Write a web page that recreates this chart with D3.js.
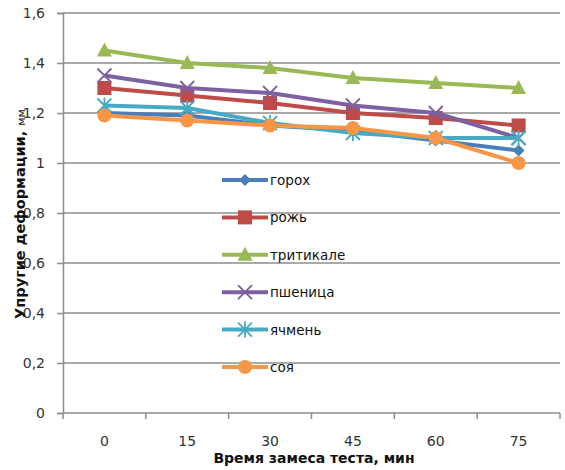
<!DOCTYPE html>
<html>
<head>
<meta charset="utf-8">
<script src="https://cdn.jsdelivr.net/npm/d3@7"></script>
<style>
  html, body { margin: 0; padding: 0; background: #fff; }
  svg { display: block; }
</style>
</head>
<body>
<svg id="chart" width="565" height="470"></svg>
<script>
// Mixing time, minutes
const categories = ["0", "15", "30", "45", "60", "75"];

// Elastic deformation, mm, for each crop
const goroh     = [1.20, 1.19, 1.15, 1.13, 1.09, 1.05];
const rozh      = [1.30, 1.27, 1.24, 1.20, 1.18, 1.15];
const tritikale = [1.45, 1.40, 1.38, 1.34, 1.32, 1.30];
const pshenica  = [1.35, 1.30, 1.28, 1.23, 1.20, 1.10];
const yachmen   = [1.23, 1.22, 1.16, 1.12, 1.10, 1.10];
const soya      = [1.19, 1.17, 1.15, 1.14, 1.10, 1.00];

const yTicks = [0, 0.2, 0.4, 0.6, 0.8, 1, 1.2, 1.4, 1.6];

const series = [
  { name: "горох",     values: goroh,     color: "#4A7EBB", marker: "diamond" },
  { name: "рожь",      values: rozh,      color: "#BE4B48", marker: "square" },
  { name: "тритикале", values: tritikale, color: "#98B954", marker: "triangle" },
  { name: "пшеница",   values: pshenica,  color: "#7D60A0", marker: "cross" },
  { name: "ячмень",    values: yachmen,   color: "#46AAC5", marker: "star" },
  { name: "соя",       values: soya,      color: "#F79646", marker: "circle" }
];

const svg = d3.select("#chart");
const margin = { left: 63, right: 5, top: 13, bottom: 57 };
const W = 565, H = 470;

const x = d3.scaleBand().domain(categories).range([margin.left, W - margin.right]);
const y = d3.scaleLinear().domain([0, 1.6]).range([H - margin.bottom, margin.top]);

const font = "'DejaVu Sans', Verdana, sans-serif";
const gridColor = "#8c8c8c";

// horizontal gridlines
svg.append("g").selectAll("line").data(yTicks.filter(d => d > 0)).join("line")
  .attr("x1", margin.left).attr("x2", W - margin.right)
  .attr("y1", d => y(d)).attr("y2", d => y(d))
  .attr("stroke", gridColor).attr("stroke-width", 1.5);

// y axis
const yAxis = svg.append("g").attr("transform", `translate(${margin.left},0)`)
  .call(d3.axisLeft(y).tickValues(yTicks).tickSize(6).tickPadding(12)
    .tickFormat(d => d3.format("")(d).replace(".", ",")));
yAxis.select(".domain").attr("stroke", gridColor).attr("stroke-width", 1.5);
yAxis.selectAll(".tick line").attr("stroke", gridColor).attr("stroke-width", 1.5);
yAxis.selectAll(".tick text").attr("font-family", font).attr("font-size", 14).attr("fill", "#333");

// x axis with ticks between categories
const xAxisY = y(0);
svg.append("line").attr("x1", margin.left).attr("x2", W - margin.right)
  .attr("y1", xAxisY).attr("y2", xAxisY).attr("stroke", gridColor).attr("stroke-width", 1.5);
const bounds = categories.map(c => x(c)).concat([x(categories[categories.length - 1]) + x.bandwidth()]);
svg.append("g").selectAll("line").data(bounds).join("line")
  .attr("x1", d => d).attr("x2", d => d)
  .attr("y1", xAxisY).attr("y2", xAxisY + 6)
  .attr("stroke", gridColor).attr("stroke-width", 1.5);
svg.append("g").selectAll("text").data(categories).join("text")
  .attr("x", d => x(d) + x.bandwidth() / 2).attr("y", xAxisY + 33)
  .attr("text-anchor", "middle").attr("font-family", font).attr("font-size", 14)
  .attr("fill", "#333").text(d => d);

// axis titles
svg.append("text").attr("x", 314).attr("y", 463).attr("text-anchor", "middle")
  .attr("font-family", font).attr("font-weight", "bold")
  .attr("font-size", 14).attr("fill", "#111").text("Время замеса теста, мин");

const yt = svg.append("text").attr("transform", "translate(25,214) rotate(-90)")
  .attr("text-anchor", "middle").attr("font-family", font)
  .attr("fill", "#111");
yt.append("tspan").attr("font-weight", "bold").attr("font-size", 14.5).text("Упругие деформации, ");
yt.append("tspan").attr("font-size", 11).text("мм");

// marker shapes
function drawMarker(g, type, color) {
  if (type === "diamond") {
    g.append("path").attr("d", "M0,-6L6,0L0,6L-6,0Z").attr("fill", color);
  } else if (type === "square") {
    g.append("rect").attr("x", -7).attr("y", -7).attr("width", 14).attr("height", 14).attr("fill", color);
  } else if (type === "triangle") {
    g.append("path").attr("d", "M0,-8L7.5,6L-7.5,6Z").attr("fill", color);
  } else if (type === "circle") {
    g.append("circle").attr("r", 7).attr("fill", color);
  } else if (type === "cross") {
    g.append("path").attr("d", "M-7,-7L7,7M-7,7L7,-7").attr("stroke", color).attr("stroke-width", 1.8).attr("fill", "none");
  } else if (type === "star") {
    g.append("path").attr("d", "M-7,-7L7,7M-7,7L7,-7M0,-8L0,8").attr("stroke", color).attr("stroke-width", 1.8).attr("fill", "none");
  }
}

const line = d3.line()
  .x((d, i) => x(categories[i]) + x.bandwidth() / 2)
  .y(d => y(d));

// series lines and markers
series.forEach(s => {
  svg.append("path").datum(s.values).attr("d", line)
    .attr("fill", "none").attr("stroke", s.color).attr("stroke-width", 4)
    .attr("stroke-linejoin", "round");
  s.values.forEach((v, i) => {
    const g = svg.append("g")
      .attr("transform", `translate(${x(categories[i]) + x.bandwidth() / 2},${y(v)})`);
    drawMarker(g, s.marker, s.color);
  });
});

// legend
const legend = svg.append("g");
series.forEach((s, i) => {
  const ly = 180 + i * 37.4;
  legend.append("line").attr("x1", 222).attr("x2", 268).attr("y1", ly).attr("y2", ly)
    .attr("stroke", s.color).attr("stroke-width", 4);
  const g = legend.append("g").attr("transform", `translate(245,${ly})`);
  drawMarker(g, s.marker, s.color);
  legend.append("text").attr("x", 270).attr("y", ly + 5).attr("font-family", font)
    .attr("font-size", 13.5).attr("fill", "#111").text(s.name);
});
</script>
</body>
</html>
